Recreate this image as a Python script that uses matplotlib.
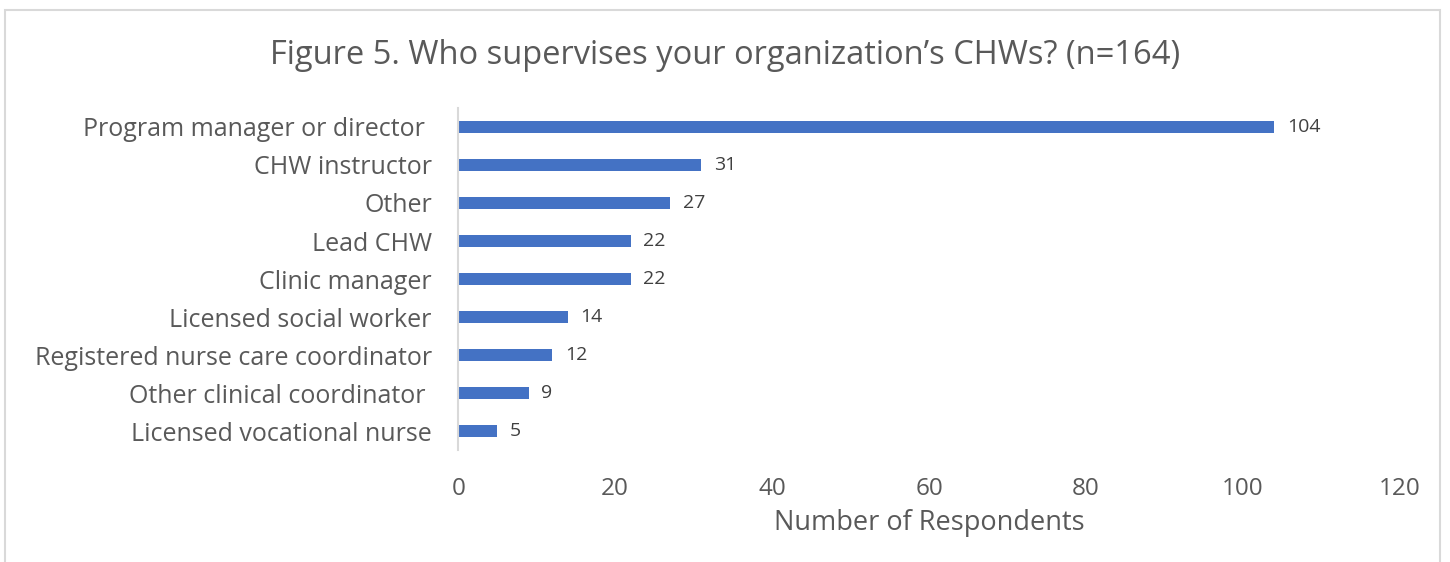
import numpy as np
import matplotlib.pyplot as plt
from matplotlib.patches import Rectangle

# data
categories = ["Program manager or director ", "CHW instructor", "Other", "Lead CHW",
              "Clinic manager", "Licensed social worker", "Registered nurse care coordinator",
              "Other clinical coordinator ", "Licensed vocational nurse"]
counts = [104, 31, 27, 22, 22, 14, 12, 9, 5]
xticks = [0, 20, 40, 60, 80, 100, 120]

plt.rcParams['font.family'] = ['Open Sans', 'DejaVu Sans']
grey = '#595959'

fig = plt.figure(figsize=(14.5, 5.62), dpi=100)
ax = fig.add_axes([0.316, 0.199, 0.6495, 0.609])

ypos = np.arange(len(categories))
ax.barh(ypos, counts, height=0.32, color='#4472C4')
for y, v in zip(ypos, counts):
    ax.text(v + 1.6, y, str(v), va='center', ha='left', fontsize=14, color='#404040')

ax.set_ylim(len(categories) - 0.5, -0.5)
ax.set_yticks(ypos)
ax.set_yticklabels(categories, fontsize=18, color=grey)
ax.set_xlim(0, 120)
ax.set_xticks(xticks)
ax.set_xticklabels([str(t) for t in xticks], fontsize=17.5, color=grey)
ax.tick_params(axis='both', length=0)
ax.tick_params(axis='x', pad=19)
ax.tick_params(axis='y', pad=19)
for s in ['top', 'right', 'bottom']:
    ax.spines[s].set_visible(False)
ax.spines['left'].set_color('#D9D9D9')
ax.spines['left'].set_linewidth(1.5)
ax.set_xlabel('Number of Respondents', fontsize=19.5, color=grey, labelpad=6)

fig.text(0.5, 0.902, "Figure 5. Who supervises your organization\u2019s CHWs? (n=164)",
         ha='center', va='center', fontsize=23.5, color=grey)

# chart border
fig.patches.append(Rectangle((5 / 1450, -0.1), 1435 / 1450, 1.1 - 10 / 562,
                             transform=fig.transFigure, fill=False,
                             edgecolor='#D9D9D9', linewidth=1.5))

fig.savefig('out.png', dpi=100)
